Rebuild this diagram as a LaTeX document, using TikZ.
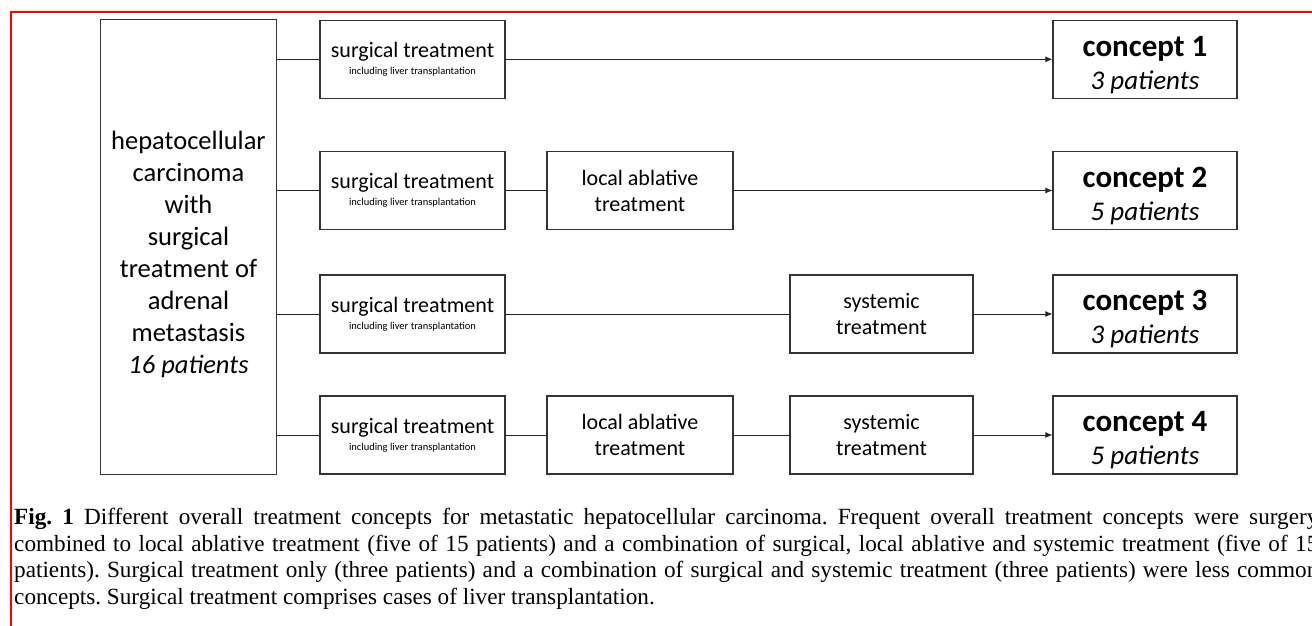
\documentclass[tikz,border=0pt]{standalone}
\usepackage{fontspec}
\setmainfont{Liberation Serif}
\newfontfamily\boxfont{Carlito}
\usepackage{tikz}
\usetikzlibrary{arrows.meta}

\begin{document}
\begin{tikzpicture}[x=1pt,y=-1pt,
  box/.style={draw=black!80,line width=1.1pt,rectangle,align=center,inner sep=0pt,
    minimum height=78pt,font={\boxfont\fontsize{22}{26}\selectfont}},
  link/.style={draw=black!85,line width=1pt},
  arr/.style={link,-{Latex[length=7pt,width=6pt]}}]
\useasboundingbox (0,0) rectangle (1312,625);
\clip (0,0) rectangle (1312,625);

% Frame
\draw[red,line width=2.2pt] (11,640) -- (11,12.3) -- (1330,12.3);

% Start
\node[box,minimum width=176pt,minimum height=455pt] (hcc) at (188.5,246.8) {};
\node[align=center,inner sep=0pt,font={\boxfont\fontsize{26.5}{32}\selectfont}] (hcctext)
  at ([yshift=-8pt]hcc.center)
  {hepatocellular\\carcinoma\\with\\surgical\\treatment of\\adrenal\\metastasis\\\textit{16 patients}};

% Surgical treatment
\foreach \r/\y in {1/59.3,2/190.5,3/314,4/435}{
  \node[box,minimum width=185pt] (s\r) at (412.5,\y)
    {surgical treatment\\[-9pt]{\boxfont\fontsize{10.5}{12}\selectfont including liver transplantation}};
  \draw[link] (hcc.east |- s\r.west) -- (s\r.west);
}

% Local ablative treatment
\node[box,minimum width=186pt] (l2) at (640,190.5) {local ablative\\treatment};
\node[box,minimum width=186pt] (l4) at (640,435) {local ablative\\treatment};

% Systemic treatment
\node[box,minimum width=183pt] (y3) at (881.5,314) {systemic\\treatment};
\node[box,minimum width=183pt] (y4) at (881.5,435) {systemic\\treatment};

% Concepts
\foreach \r/\y/\n in {1/59.3/3,2/190.5/5,3/314/3,4/435/5}{
  \node[box,minimum width=184pt] (c\r) at (1145,\y)
    {{\bfseries\fontsize{31}{32}\selectfont\rule{0pt}{31pt}concept \r}\\[7pt]{\itshape\fontsize{27}{30}\selectfont \n\ patients}};
}

% Paths
\draw[arr] (s1) -- (c1);
\draw[link] (s2) -- (l2);
\draw[arr] (l2) -- (c2);
\draw[link] (s3) -- (y3);
\draw[arr] (y3) -- (c3);
\draw[link] (s4) -- (l4);
\draw[link] (l4) -- (y4);
\draw[arr] (y4) -- (c4);

% Caption
\node[anchor=north west,text width=1304pt,align=justify,inner sep=0pt,
  font={\fontsize{23.2}{26.5}\selectfont\frenchspacing}] (caption) at (14,508)
  {\textbf{Fig.\ 1} Different overall treatment concepts for metastatic hepatocellular carcinoma. Frequent overall treatment concepts were surgery\linebreak
  combined to local ablative treatment (five of 15 patients) and a combination of surgical, local ablative and systemic treatment (five of 15\linebreak
  patients). Surgical treatment only (three patients) and a combination of surgical and systemic treatment (three patients) were less common\linebreak
  concepts. Surgical treatment comprises cases of liver transplantation.};
\end{tikzpicture}
\end{document}
